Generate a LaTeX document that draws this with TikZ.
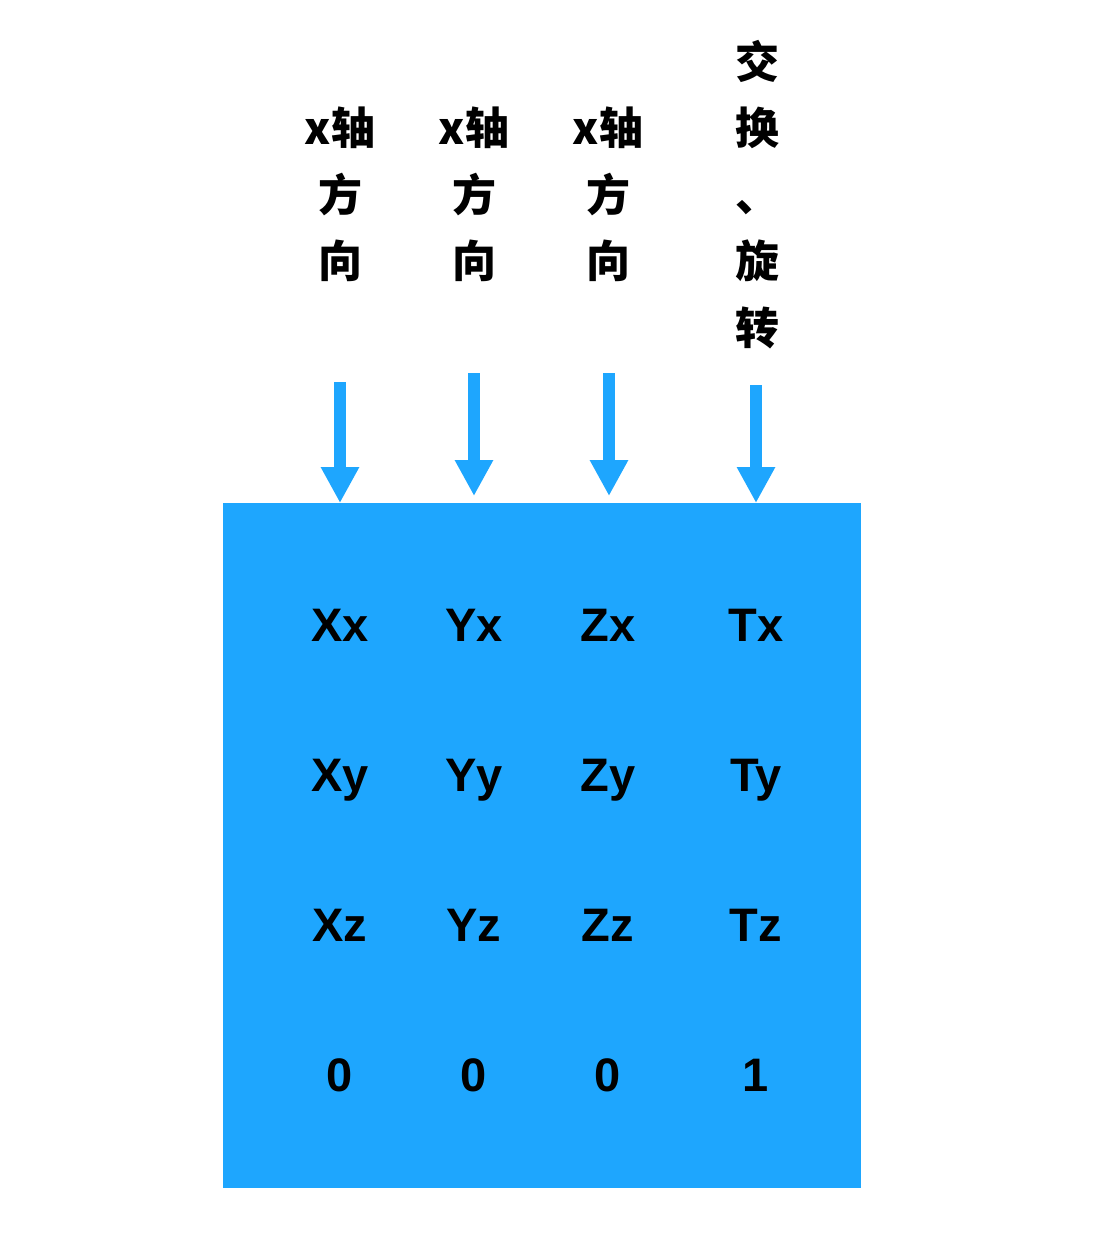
\documentclass[tikz,border=0pt]{standalone}
\usepackage{fontspec}
\setmainfont{Liberation Sans}
\newfontfamily\cjk{Noto Sans CJK SC}
\usetikzlibrary{arrows.meta}
\definecolor{matblue}{RGB}{30,166,254}
\tikzset{
  cell/.style={font=\fontsize{47}{47}\selectfont\bfseries, text=black, inner sep=0pt, anchor=base},
  lbl/.style={font=\cjk\fontsize{44}{66.5}\selectfont\bfseries, align=center, inner sep=0pt, anchor=north},
  arr/.style={draw=matblue, line width=11.5pt, -{Triangle[width=36pt,length=36pt]}}
}
\begin{document}
\begin{tikzpicture}[x=1pt,y=-1pt]
\useasboundingbox (0,0) rectangle (1092,1252);
\fill[white] (0,0) rectangle (1092,1252);
% matrix block
\node[fill=matblue, minimum width=638pt, minimum height=685pt, inner sep=0pt, anchor=north west] (mat) at (223,503) {};
% labels
\node[lbl] (l1) at (340,107) {x轴\\方\\向};
\node[lbl] (l2) at (474,107) {x轴\\方\\向};
\node[lbl] (l3) at (608,107) {x轴\\方\\向};
\node[lbl] (l4) at (757,40) {交\\换\\、\\旋\\转};
% arrows
\coordinate (s1) at (340,382); \coordinate (e1) at (340,503);
\coordinate (s2) at (474,373); \coordinate (e2) at (474,496);
\coordinate (s3) at (609,373); \coordinate (e3) at (609,496);
\coordinate (s4) at (756,385); \coordinate (e4) at (756,503);
\draw[arr] (s1) -- (e1);
\draw[arr] (s2) -- (e2);
\draw[arr] (s3) -- (e3);
\draw[arr] (s4) -- (e4);
% entries
\node[cell] (xx) at (340,641) {Xx};
\node[cell] (yx) at (474,641) {Yx};
\node[cell] (zx) at (608,641) {Zx};
\node[cell] (tx) at (756,641) {Tx};
\node[cell] (xy) at (340,791) {Xy};
\node[cell] (yy) at (474,791) {Yy};
\node[cell] (zy) at (608,791) {Zy};
\node[cell] (ty) at (756,791) {Ty};
\node[cell] (xz) at (340,941) {Xz};
\node[cell] (yz) at (474,941) {Yz};
\node[cell] (zz) at (608,941) {Zz};
\node[cell] (tz) at (756,941) {Tz};
\node[cell] (w1) at (340,1091) {0};
\node[cell] (w2) at (474,1091) {0};
\node[cell] (w3) at (608,1091) {0};
\node[cell] (w4) at (756,1091) {1};
\end{tikzpicture}
\end{document}
